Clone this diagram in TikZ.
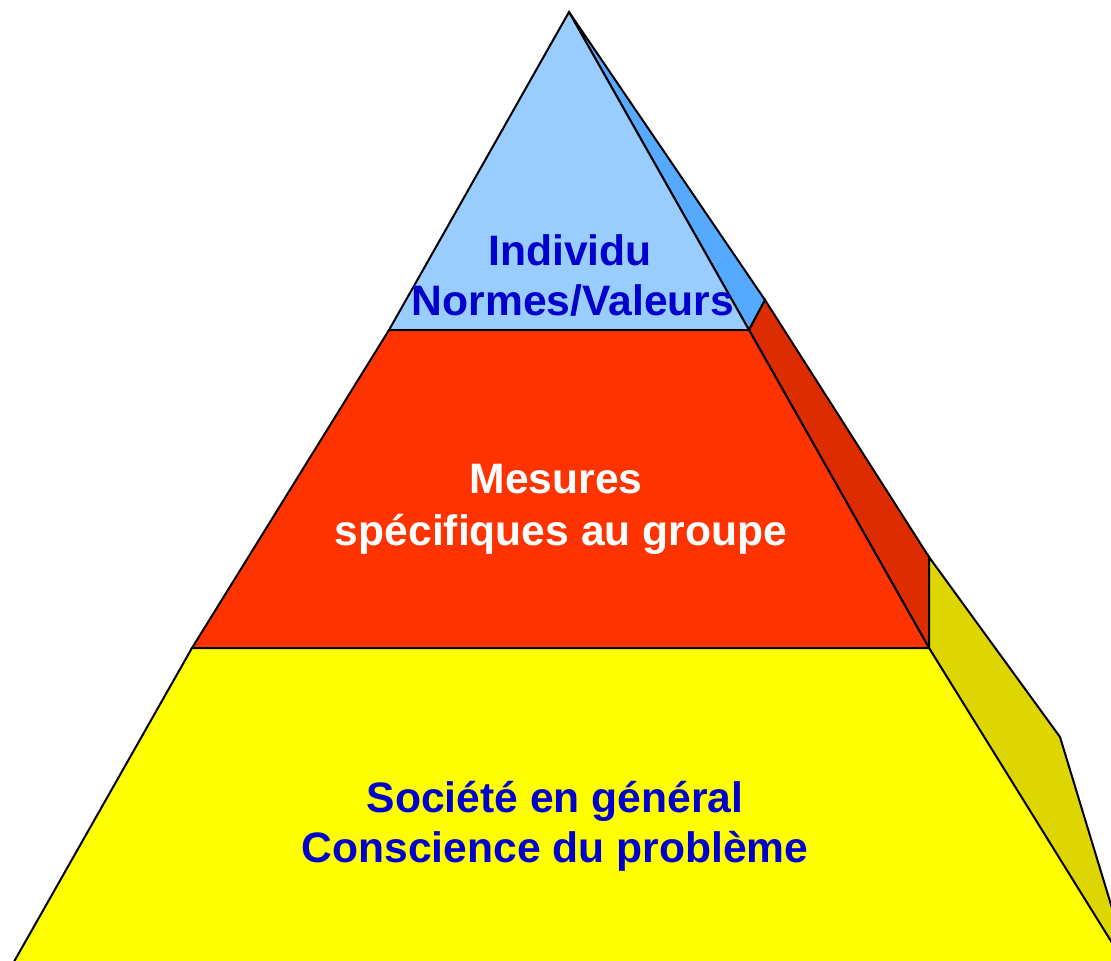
\documentclass[tikz,border=0pt]{standalone}
\usepackage{fontspec}
\setmainfont{Liberation Sans}
\definecolor{blueF}{HTML}{99CCFF}
\definecolor{blueS}{HTML}{55AAFF}
\definecolor{redF}{HTML}{FF3300}
\definecolor{redS}{HTML}{DD2C00}
\definecolor{yelF}{HTML}{FFFF00}
\definecolor{yelS}{HTML}{DDD600}
\definecolor{txtblue}{HTML}{0000CC}
\begin{document}
\begin{tikzpicture}[x=1pt,y=-1pt,
  face/.style={draw=black,line width=2pt,line join=miter},
  lbl/.style={anchor=base,inner sep=0pt,font=\fontsize{42.6}{50}\selectfont\bfseries}]
\useasboundingbox (0,0) rectangle (1111,961);
\clip (0,0) rectangle (1111,961);
% top tier
\filldraw[face,fill=blueS] (569,12) -- (765,300) -- (749,330) -- cycle;
\filldraw[face,fill=blueF] (569,12) -- (749,330) -- (389,330) -- cycle;
% middle tier
\filldraw[face,fill=redS] (749,330) -- (765,300) -- (929,557) -- (929,648) -- cycle;
\filldraw[face,fill=redF] (389,330) -- (749,330) -- (929,648) -- (192,648) -- cycle;
% bottom tier
\filldraw[face,fill=yelS] (929,648) -- (929,557) -- (1060,737) -- (1140,1000) -- (1150,1010) -- cycle;
\filldraw[face,fill=yelF] (192,648) -- (929,648) -- (1150,1004) -- (-10,1004) -- cycle;
% labels
\node[lbl,text=txtblue] (ta) at (570,265) {Individu};
\node[lbl,text=txtblue] (tb) at (573,315) {Normes/Valeurs};
\node[lbl,text=white] (ma) at (556,493) {Mesures};
\node[lbl,text=white] (mb) at (561,545) {spécifiques au groupe};
\node[lbl,text=txtblue] (ba) at (555,812) {Société en général};
\node[lbl,text=txtblue] (bb) at (555,862) {Conscience du problème};
\end{tikzpicture}
\end{document}
